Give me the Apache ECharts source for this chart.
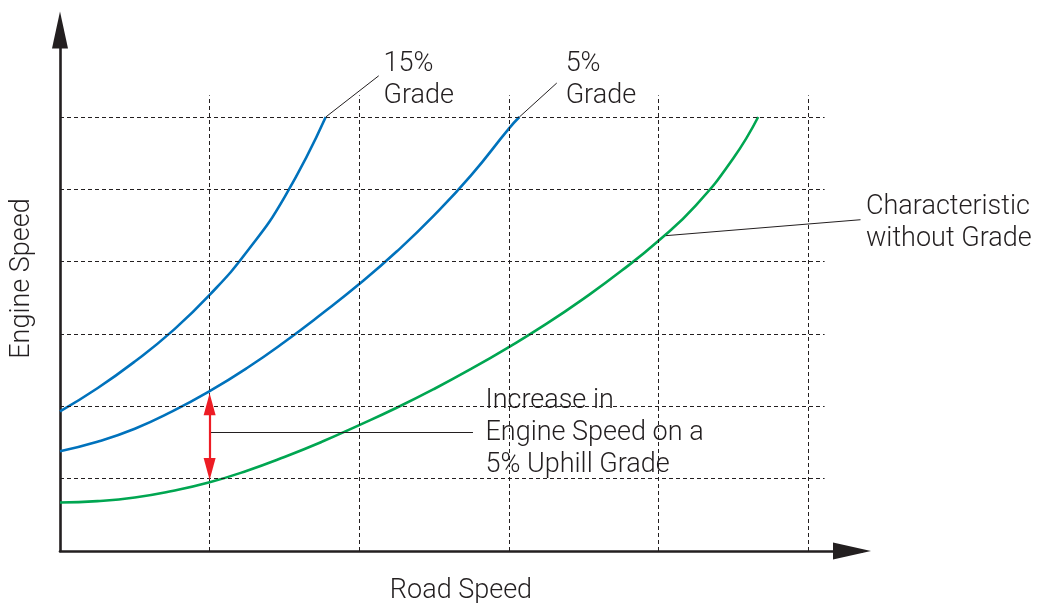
<!DOCTYPE html>
<html><head><meta charset="utf-8">
<script src="https://cdn.jsdelivr.net/npm/echarts@6/dist/echarts.min.js"></script>
<style>html,body{margin:0;padding:0;background:#fff}#c{width:1037px;height:603px}</style>
</head><body><div id="c"></div>
<script>
// ---- data (road speed / engine speed, in grid units) ----
const roadSpeed15 = [0, 0.25, 0.5, 0.75, 1.0, 1.25, 1.5, 1.776];
const engineSpeed15 = [1.93, 2.25, 2.62, 3.04, 3.54, 4.14, 4.89, 6.0];
const roadSpeed5 = [0, 0.25, 0.5, 0.75, 1.0, 1.25, 1.5, 1.75, 2.0, 2.25, 2.5, 2.75, 3.0, 3.07];
const engineSpeed5 = [1.38, 1.51, 1.69, 1.93, 2.21, 2.53, 2.89, 3.28, 3.69, 4.14, 4.64, 5.20, 5.84, 6.0];
const roadSpeed0 = [0, 0.25, 0.5, 0.75, 1.0, 1.25, 1.5, 1.75, 2.0, 2.25, 2.5, 2.75, 3.0, 3.25, 3.5, 3.75, 4.0, 4.25, 4.5, 4.666];
const engineSpeed0 = [0.67, 0.69, 0.74, 0.83, 0.95, 1.11, 1.30, 1.51, 1.74, 1.98, 2.24, 2.52, 2.82, 3.14, 3.49, 3.87, 4.29, 4.78, 5.43, 6.0];
const xGridTicks = [1, 2, 3, 4, 5];
const yGridTicks = [1, 2, 3, 4, 5, 6];
const xGridEnd = 5.11;
const yGridEnd = 6.3;
const xMax = 5.36;
const yMax = 7.3;
// annotations
const label15 = ['15%', 'Grade'];
const label5 = ['5%', 'Grade'];
const labelChar = ['Characteristic', 'without Grade'];
const labelInc = ['Increase in', 'Engine Speed on a', '5% Uphill Grade'];
const leader15 = [[1.776, 6.0], [2.13, 6.57]];
const leader5 = [[3.07, 6.0], [3.32, 6.47]];
const leaderChar = [[4.05, 4.36], [5.35, 4.58]];
const leaderInc = [[1.0, 1.636], [2.76, 1.636]];
const incArrow = { x: 1, top: 2.18, bottom: 0.98 };
const text15Pos = [2.159, 6.553];
const text5Pos = [3.376, 6.553];
const textIncPos = [2.84, 1.673];

const INK = '#231f20';
const FONT = 'Roboto, "Liberation Sans", Arial, sans-serif';
const FS = 27;
const gridLeft = 60, gridBottom = 52, gridW = 802, gridH = 528;
const pxPerY = gridH / yMax;
const arrowLen = 22;

const zip = (xs, ys) => xs.map((x, i) => [x, ys[i]]);
const gridLines = [];
yGridTicks.forEach(y => gridLines.push([{ coord: [0, y] }, { coord: [xGridEnd, y] }]));
xGridTicks.forEach(x => gridLines.push([{ coord: [x, 0] }, { coord: [x, yGridEnd] }]));
const seg = s => [{ coord: s[0] }, { coord: s[1] }];
const inset = (arrowLen / 2) / pxPerY;

function textPoint(pos, lines, dist, dy) {
  return {
    coord: pos,
    symbol: 'circle', symbolSize: 1,
    itemStyle: { color: 'rgba(0,0,0,0)' },
    label: {
      show: true, position: 'right', distance: dist, offset: [0, dy],
      formatter: lines.join('\n'),
      color: INK, fontSize: FS, lineHeight: 32, fontFamily: FONT, fontWeight: 300,
      align: 'left', verticalAlign: 'middle'
    }
  };
}

const curveStyle = c => ({ color: c, width: 2.6 });

const option = {
  animation: false,
  backgroundColor: '#fff',
  grid: { left: gridLeft, bottom: gridBottom, width: gridW, height: gridH, containLabel: false, outerBoundsMode: 'none' },
  xAxis: {
    type: 'value', min: 0, max: xMax,
    name: 'Road Speed', nameLocation: 'middle', nameGap: 27,
    nameTextStyle: { color: INK, fontSize: FS, fontFamily: FONT, fontWeight: 300 },
    axisLine: { show: true, lineStyle: { color: INK, width: 2.6 }, symbol: ['none', 'triangle'], symbolSize: [17, 38], symbolOffset: [0, -10] },
    axisTick: { show: false }, axisLabel: { show: false }, splitLine: { show: false }
  },
  yAxis: {
    type: 'value', min: 0, max: yMax,
    name: 'Engine Speed', nameLocation: 'middle', nameGap: 24,
    nameTextStyle: { color: INK, fontSize: FS, fontFamily: FONT, fontWeight: 300, padding: [0, 0, 0, 17] },
    axisLine: { show: true, lineStyle: { color: INK, width: 2.6 }, symbol: ['none', 'triangle'], symbolSize: [16, 37], symbolOffset: [0, -7] },
    axisTick: { show: false }, axisLabel: { show: false }, splitLine: { show: false }
  },
  series: [
    {
      type: 'line', data: [], z: 1, silent: true,
      markLine: {
        silent: true, symbol: ['none', 'none'], label: { show: false },
        lineStyle: { color: INK, width: 1, type: [4, 3] },
        emphasis: { disabled: true },
        data: gridLines
      }
    },
    { name: '15% Grade', type: 'line', z: 3, data: zip(roadSpeed15, engineSpeed15), smooth: 0.5, showSymbol: false, lineStyle: curveStyle('#0072bc'), itemStyle: { color: '#0072bc' } },
    { name: '5% Grade', type: 'line', z: 3, data: zip(roadSpeed5, engineSpeed5), smooth: 0.5, showSymbol: false, lineStyle: curveStyle('#0072bc'), itemStyle: { color: '#0072bc' } },
    { name: 'Characteristic without Grade', type: 'line', z: 3, data: zip(roadSpeed0, engineSpeed0), smooth: 0.5, showSymbol: false, lineStyle: curveStyle('#00a651'), itemStyle: { color: '#00a651' } },
    {
      type: 'line', data: [], z: 4, silent: true,
      markLine: {
        silent: true, symbol: ['none', 'none'], label: { show: false },
        lineStyle: { color: INK, width: 1, type: 'solid' },
        emphasis: { disabled: true },
        data: [
          seg(leader15), seg(leader5), seg(leaderChar), seg(leaderInc),
          [
            { coord: [incArrow.x, incArrow.top - inset], symbol: 'triangle', symbolSize: [12, arrowLen], lineStyle: { color: '#ed1c24', width: 2.2 } },
            { coord: [incArrow.x, incArrow.bottom + inset], symbol: 'triangle', symbolSize: [12, arrowLen] }
          ]
        ]
      },
      markPoint: {
        silent: true,
        data: [
          textPoint(text15Pos, label15, 0, 3),
          textPoint(text5Pos, label5, 0, 3),
          textPoint(leaderChar[1], labelChar, 5, 4),
          textPoint(textIncPos, labelInc, 0, 3)
        ]
      }
    }
  ]
};

const chart = echarts.init(document.getElementById('c'), null, { renderer: 'canvas' });
chart.setOption(option);
</script>
</body></html>
